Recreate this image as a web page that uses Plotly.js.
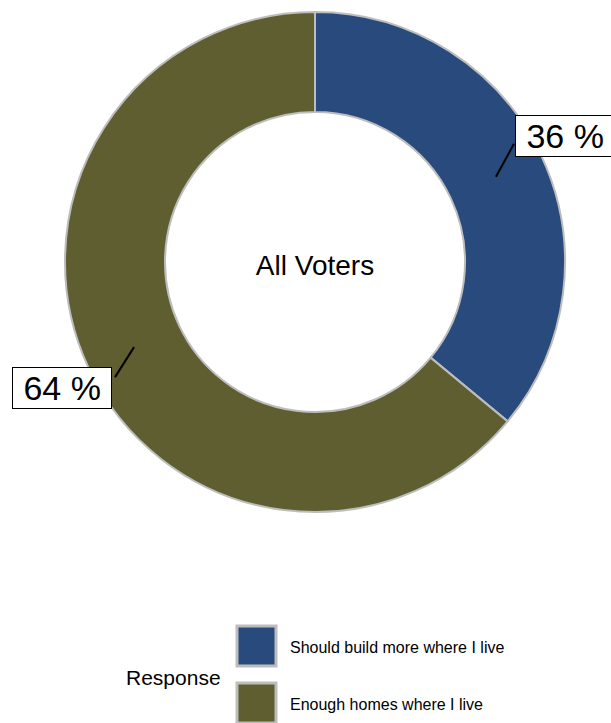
<!DOCTYPE html>
<html>
<head>
<meta charset="utf-8">
<script src="https://cdn.plot.ly/plotly-3.0.1.min.js"></script>
<style>html,body{margin:0;padding:0;background:#fff;}#chart{width:611px;height:723px;}</style>
</head>
<body>
<div id="chart"></div>
<script>
// ---- data ----
const labels = ['Should build more where I live', 'Enough homes where I live'];
const values = [36, 64];
const colors = ['#284a7c', '#5e5e30'];
const centerTitle = 'All Voters';
const legendTitle = 'Response';

// ---- layout constants ----
const W = 611, H = 723;
const FONT = 'Liberation Sans, Arial, sans-serif';
const CX = 315, CY = 262, R = 250, HOLE = 0.6;
const px2x = p => p / W;
const py2y = p => 1 - p / H;

const trace = {
  type: 'pie',
  labels: labels,
  values: values,
  sort: false,
  direction: 'clockwise',
  rotation: 0,
  hole: HOLE,
  textinfo: 'none',
  hoverinfo: 'label+percent',
  marker: { colors: colors, line: { color: '#bdbdbd', width: 2 } },
  domain: { x: [px2x(CX - R), px2x(CX + R)], y: [py2y(CY + R), py2y(CY - R)] },
  title: { text: centerTitle, position: 'middle center', font: { family: FONT, size: 28, color: '#000' } },
  showlegend: false
};

const shapes = [];
const annotations = [];
const total = values.reduce((a, b) => a + b, 0);
let cum = 0;
values.forEach((v, i) => {
  const mid = (cum + v / 2) / total;
  cum += v;
  const th = 2 * Math.PI * mid;
  const r = R * (1 + HOLE) / 2;
  const hx = CX + r * Math.sin(th), hy = CY - r * Math.cos(th);
  const right = Math.sin(th) > 0;
  const tail = right ? [18, -33] : [-19, 30];
  const box = right ? [69, -41] : [-72, 41];
  shapes.push({ type: 'line', xref: 'paper', yref: 'paper',
    x0: px2x(hx), y0: py2y(hy), x1: px2x(hx + tail[0]), y1: py2y(hy + tail[1]),
    line: { color: '#000', width: 2 } });
  annotations.push({ xref: 'paper', yref: 'paper', x: px2x(hx + box[0]), y: py2y(hy + box[1]),
    xanchor: 'center', yanchor: 'middle', showarrow: false,
    text: '\u00a0' + Math.round(v / total * 100) + ' %\u00a0',
    font: { family: FONT, size: 34, color: '#000' },
    bgcolor: '#fff', bordercolor: '#000', borderwidth: 1, borderpad: 1 });
});

// manual legend (large swatches)
labels.forEach((lab, i) => {
  const top = 626 + i * 57;
  shapes.push({ type: 'rect', xref: 'paper', yref: 'paper',
    x0: px2x(237), x1: px2x(276), y0: py2y(top), y1: py2y(top + 40),
    fillcolor: colors[i], line: { color: '#bdbdbd', width: 3 } });
  annotations.push({ xref: 'paper', yref: 'paper', x: px2x(288), y: py2y(top + 21),
    xanchor: 'left', yanchor: 'middle', showarrow: false, text: lab,
    font: { family: FONT, size: 16, color: '#000' } });
});
annotations.push({ xref: 'paper', yref: 'paper', x: px2x(124), y: py2y(677),
  xanchor: 'left', yanchor: 'middle', showarrow: false, text: legendTitle,
  font: { family: FONT, size: 21, color: '#000' } });

const layout = {
  width: W, height: H,
  margin: { l: 0, r: 0, t: 0, b: 0 },
  paper_bgcolor: '#fff', plot_bgcolor: '#fff',
  showlegend: false,
  shapes: shapes,
  annotations: annotations
};

Plotly.newPlot('chart', [trace], layout, { displayModeBar: false, staticPlot: true });
</script>
</body>
</html>
